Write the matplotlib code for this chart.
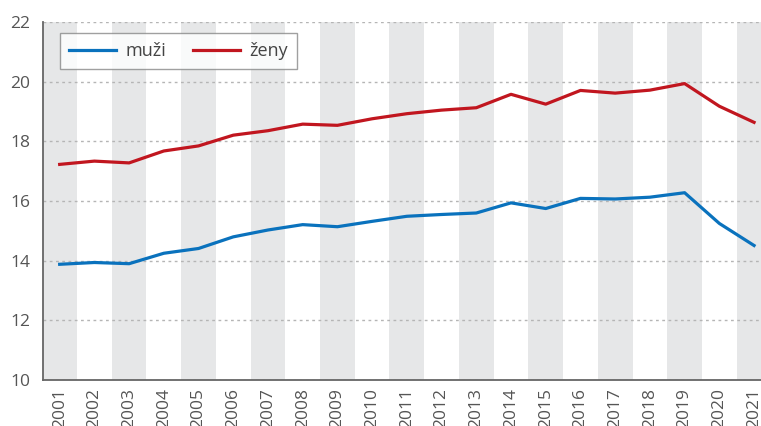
import matplotlib
matplotlib.use("Agg")
import matplotlib.pyplot as plt

years = list(range(2001, 2022))
muzi = [13.88, 13.94, 13.90, 14.25, 14.41, 14.80, 15.03, 15.21, 15.14, 15.32,
        15.49, 15.55, 15.60, 15.94, 15.75, 16.09, 16.07, 16.13, 16.28, 15.25, 14.51]
zeny = [17.23, 17.34, 17.28, 17.68, 17.85, 18.21, 18.36, 18.58, 18.54, 18.76,
        18.93, 19.05, 19.13, 19.58, 19.25, 19.71, 19.62, 19.72, 19.94, 19.18, 18.64]

plt.rcParams['font.family'] = ['Open Sans', 'DejaVu Sans']

fig = plt.figure(figsize=(7.61, 4.26), dpi=100)
ax = fig.add_axes([0.0565, 0.108, 0.9435, 0.840])

# alternating grey bands behind every other year
for i, y in enumerate(years):
    if i % 2 == 0:
        ax.axvspan(y - 0.5, y + 0.5, color='#e6e7e8', lw=0, zorder=0)

ax.plot(years, muzi, color='#0a72bd', lw=2.3, label='muži', zorder=3)
ax.plot(years, zeny, color='#c1161f', lw=2.3, label='ženy', zorder=3)

ax.set_xlim(2000.52, 2021.2)
ax.set_ylim(10, 22)
ax.set_yticks(range(10, 23, 2))
ax.set_xticks(years)
ax.set_xticklabels([str(y) for y in years], rotation=90)

ax.grid(axis='y', color='#b5b5b5', linestyle=(0, (2, 2.5)), lw=1, zorder=1)
ax.set_axisbelow(True)
ax.tick_params(length=0, labelsize=12.5, colors='#555555', pad=6)
ax.tick_params(axis='y', pad=9)

for s in ['top', 'right']:
    ax.spines[s].set_visible(False)
for s in ['left', 'bottom']:
    ax.spines[s].set_color('#666666')
    ax.spines[s].set_linewidth(1.3)
    ax.spines[s].set_zorder(4)

leg = ax.legend(loc='upper left', bbox_to_anchor=(0.024, 0.969), ncol=2,
                fontsize=13, frameon=True, fancybox=False, handlelength=2.6,
                columnspacing=1.5, borderpad=0.5, handletextpad=0.5,
                borderaxespad=0)
leg.get_frame().set_edgecolor('#888888')
leg.get_frame().set_linewidth(1)
for t in leg.get_texts():
    t.set_color('#444444')

fig.savefig('out.png', dpi=100)
